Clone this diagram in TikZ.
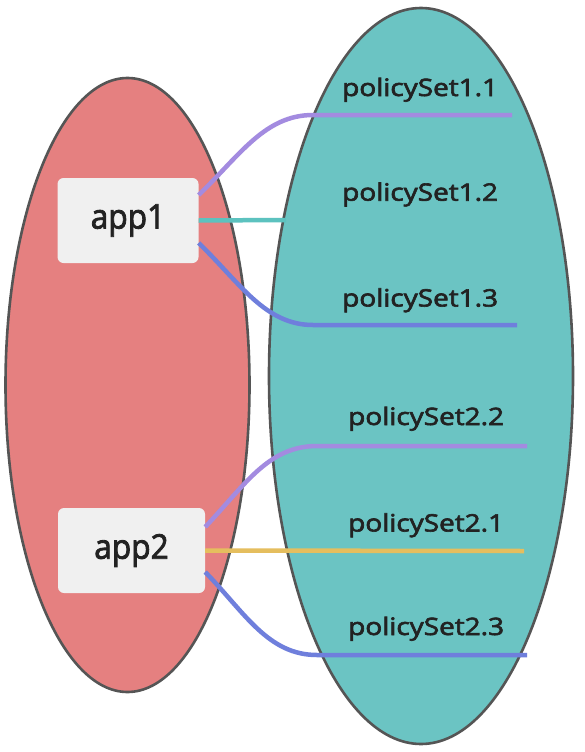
\documentclass[tikz,border=0pt]{standalone}
\usepackage{fontspec}
\setmainfont{Open Sans}
\newfontfamily\medfont{Open Sans}[FakeBold=2.5]
\usepackage{graphicx}
\definecolor{redfill}{HTML}{E58080}
\definecolor{tealfill}{HTML}{6BC4C3}
\definecolor{edgegray}{HTML}{555555}
\definecolor{boxfill}{HTML}{F0F0F0}
\definecolor{purpleline}{HTML}{A38BE0}
\definecolor{blueline}{HTML}{6F7FDC}
\definecolor{tealline}{HTML}{5CC2BF}
\definecolor{yellowline}{HTML}{E5BE5E}
\definecolor{txt}{HTML}{222222}
\begin{document}
\begin{tikzpicture}[x=1pt,y=-1pt,
  blob/.style={draw=edgegray,line width=2.6pt},
  appbox/.style={fill=boxfill,rounded corners=6pt,minimum width=#1,minimum height=85pt,inner sep=0pt,font=\medfont\fontsize{34}{40}\selectfont,text=txt},
  plab/.style={anchor=base west,inner sep=0pt,font=\medfont\fontsize{24}{28}\selectfont,text=txt},
  link/.style={line width=4.5pt,line cap=butt}]
\useasboundingbox (0,0) rectangle (585,752);
\fill[white] (0,0) rectangle (585,752);
% ellipses
\draw[blob,fill=tealfill] (421,376) ellipse [x radius=152, y radius=368];
\draw[blob,fill=redfill] (127.5,385) ellipse [x radius=122, y radius=307];
% labels
\node[plab] (p11) at (342,96) {\scalebox{1.165}[1]{policySet1.1}};
\node[plab] (p12) at (342,200.7) {\scalebox{1.165}[1]{policySet1.2}};
\node[plab] (p13) at (342,306.5) {\scalebox{1.165}[1]{policySet1.3}};
\node[plab] (p22) at (348,425) {\scalebox{1.165}[1]{policySet2.2}};
\node[plab] (p21) at (348,531.5) {\scalebox{1.165}[1]{policySet2.1}};
\node[plab] (p23) at (348,635) {\scalebox{1.165}[1]{policySet2.3}};
% app boxes
\node[appbox=141pt] (b1) at (128,220.5) {\scalebox{0.93}[1]{app1}};
\node[appbox=147pt] (b2) at (131.5,550.5) {\scalebox{0.93}[1]{app2}};
% free ends
\coordinate (e11) at (512,115);
\coordinate (e12) at (286,220);
\coordinate (e13) at (517,325);
\coordinate (e22) at (527,446);
\coordinate (e21) at (524,551);
\coordinate (e23) at (527,655);
% connectors
\draw[link,purpleline] ([yshift=25.5pt]b1.east) .. controls (240,155) and (265,115) .. (313,115) -- (e11);
\draw[link,tealline] (b1.east) -- (e12);
\draw[link,blueline] ([yshift=-22.5pt]b1.east) .. controls (240,283) and (265,325) .. (313,325) -- (e13);
\draw[link,purpleline] ([yshift=23.5pt]b2.east) .. controls (245,485) and (268,446) .. (317,446) -- (e22);
\draw[link,yellowline] (b2.east) -- (e21);
\draw[link,blueline] ([yshift=-21.5pt]b2.east) .. controls (245,613) and (268,655) .. (317,655) -- (e23);
\end{tikzpicture}
\end{document}
